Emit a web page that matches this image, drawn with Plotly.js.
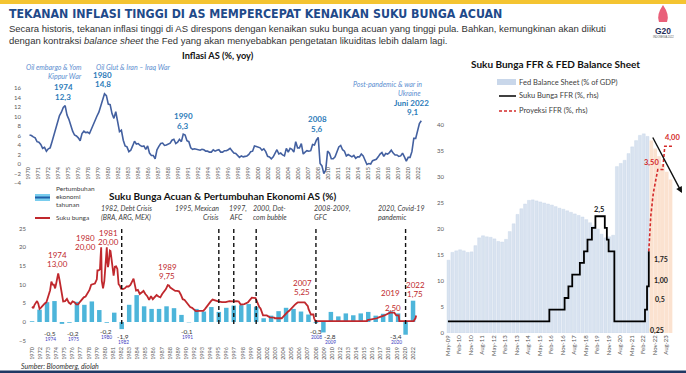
<!DOCTYPE html>
<html><head><meta charset="utf-8">
<script src="https://cdn.plot.ly/plotly-3.0.1.min.js"></script>
<style>html,body{margin:0;padding:0;background:#fff;}#chart{width:686px;height:373px;}</style>
</head><body><div id="chart"></div>
<script>
// ================= DATA =================
// US inflation (CPI, % yoy) – quarterly readings (Mar, Jun, Sep, Dec), 1970 .. Jun 2022
const inflStartYear = 1970;
const inflValues = [
 6.1,6.0,5.7,5.5, 4.7,4.6,4.1,3.3, 3.5,2.7,3.2,3.4, 4.7,6.0,7.4,8.7,
 10.2,10.9,11.9,12.3, 10.3,9.4,7.9,6.9, 6.1,5.9,5.5,4.9, 6.4,6.9,6.6,6.7,
 6.4,7.4,8.3,9.0, 10.1,10.9,12.1,13.3, 14.8,14.4,12.6,12.5, 10.6,9.6,11.0,8.9,
 6.8,7.1,5.0,3.8, 3.6,2.6,2.9,3.8, 4.8,4.2,4.3,3.9, 3.7,3.8,3.1,3.8,
 2.3,1.8,1.8,1.1, 3.0,3.7,4.3,4.4, 3.9,4.0,4.2,4.4, 5.0,5.2,4.3,4.6,
 5.2,4.7,6.3,6.1, 4.9,4.7,3.4,3.1, 3.2,3.1,3.0,2.9, 3.1,3.0,2.7,2.7,
 2.5,2.5,3.0,2.7, 2.9,3.0,2.5,2.5, 2.8,2.8,3.0,3.3, 2.8,2.3,2.2,1.7,
 1.4,1.7,1.5,1.6, 1.7,2.0,2.6,2.7, 3.8,3.7,3.5,3.4, 2.9,3.2,2.6,1.6,
 1.5,1.1,1.5,2.4, 3.0,2.1,2.3,1.9, 1.7,3.3,2.5,3.3, 3.1,2.5,4.7,3.4,
 3.4,4.3,2.1,2.5, 2.8,2.7,2.8,4.1, 4.0,5.0,5.6,0.1, -0.4,-2.0,-1.3,2.7,
 2.3,1.1,1.1,1.5, 2.7,3.6,3.9,3.0, 2.7,1.7,2.0,1.7, 1.5,1.8,1.2,1.5,
 1.5,2.1,1.7,0.8, -0.1,0.1,0.0,0.7, 0.9,1.0,1.5,2.1, 2.4,1.6,2.2,2.1,
 2.4,2.9,2.3,1.9, 1.9,1.6,1.7,2.3, 1.5,0.6,1.4,1.4, 2.6,5.4,5.4,7.0,
 8.5,9.1
];
const inflDates = inflValues.map((v,i)=>{
  const y = inflStartYear + Math.floor(i/4), m = 3*(i%4)+3;
  return y + '-' + String(m).padStart(2,'0') + '-15';
});

// US annual GDP growth (%), 1970..2021
const gdpYears = [];
for (let y = 1970; y <= 2021; y++) gdpYears.push(y);
const gdpValues = [0.2,3.3,5.3,5.6,-0.5,-0.2,5.4,4.6,5.5,3.2,-0.2,2.5,-1.9,4.6,7.2,4.2,3.5,3.5,4.2,3.7,
  1.9,-0.1,3.5,2.8,4.0,2.7,3.8,4.4,4.5,4.8,4.1,1.0,1.7,2.9,3.8,3.5,2.8,2.0,-0.3,-2.8,
  2.7,1.5,2.3,1.8,2.3,2.7,1.7,2.2,2.9,2.3,-3.4,5.7];
const gdpDates = gdpYears.map(y => y + '-12-31');
// bottom axis labels
const gdpTickYears = [1970,1972,1973,1974,1975,1976,1977,1978,1979,1980,1981,1982,1983,1984,1985,1986,1987,1988,1989,1990,
  1992,1993,1994,1995,1996,1997,1998,1999,2000,2002,2003,2004,2005,2006,2007,2008,2009,2010,
  2012,2013,2014,2015,2016,2017,2018,2019,2020,2022];

// Policy rate history (%)
const rateDates = ['1971-01','1971-03','1971-05','1971-07','1971-09','1971-11',
 '1972-01','1972-03','1972-06','1972-09','1972-12',
 '1973-02','1973-04','1973-06','1973-08','1973-10','1973-12',
 '1974-02','1974-04','1974-06','1974-07','1974-09','1974-11',
 '1975-01','1975-03','1975-06','1975-09','1975-12',
 '1976-03','1976-06','1976-09','1976-12',
 '1977-03','1977-06','1977-09','1977-12',
 '1978-03','1978-06','1978-09','1978-12',
 '1979-03','1979-06','1979-09','1979-10','1979-12',
 '1980-02','1980-03','1980-04','1980-05','1980-06','1980-07','1980-09','1980-11','1980-12',
 '1981-01','1981-02','1981-03','1981-04','1981-05','1981-06','1981-07','1981-08','1981-09','1981-10','1981-11','1981-12',
 '1982-02','1982-04','1982-06','1982-07','1982-08','1982-10','1982-12',
 '1983-03','1983-06','1983-09','1983-12',
 '1984-03','1984-06','1984-08','1984-10','1984-12',
 '1985-03','1985-06','1985-09','1985-12',
 '1986-03','1986-06','1986-09','1986-12',
 '1987-03','1987-06','1987-09','1987-12',
 '1988-03','1988-06','1988-09','1988-12',
 '1989-03','1989-05','1989-07','1989-09','1989-12',
 '1990-03','1990-06','1990-09','1990-12',
 '1991-03','1991-06','1991-09','1991-12',
 '1992-03','1992-06','1992-09','1992-12',
 '1993-06','1993-12',
 '1994-03','1994-06','1994-09','1994-12',
 '1995-03','1995-07','1995-12',
 '1996-06','1996-12','1997-06','1997-12',
 '1998-06','1998-09','1998-12',
 '1999-06','1999-12',
 '2000-03','2000-06','2000-12',
 '2001-02','2001-04','2001-06','2001-08','2001-10','2001-12',
 '2002-06','2002-11','2003-06','2003-07','2004-06','2004-09','2004-12',
 '2005-03','2005-06','2005-09','2005-12',
 '2006-03','2006-06','2006-08','2007-07','2007-09','2007-12',
 '2008-01','2008-03','2008-05','2008-09','2008-10','2008-12',
 '2015-11','2015-12','2016-12','2017-03','2017-06','2017-12','2018-03','2018-06','2018-09','2018-12',
 '2019-07','2019-08','2019-09','2019-10','2020-02','2020-03','2022-02','2022-03','2022-05','2022-06'];
const rateValues = [4.1,3.7,4.6,5.3,5.6,4.9,
 3.5,3.8,4.5,4.9,5.3,
 6.6,7.1,8.5,10.8,10.0,10.0,
 9.0,10.5,11.9,13.0,11.3,9.5,
 7.1,5.5,5.6,6.2,5.2,
 4.8,5.5,5.3,4.7,
 4.7,5.4,6.1,6.6,
 6.8,7.6,8.5,10.0,
 10.1,10.3,11.4,13.8,13.8,
 14.1,17.2,20.0,11.0,9.5,9.0,10.9,15.9,18.9,
 20.0,16.0,14.7,15.7,18.5,19.1,19.0,17.8,15.9,15.1,13.3,12.4,
 14.8,14.9,14.2,12.6,10.1,9.7,8.9,
 8.8,9.0,9.5,9.5,
 9.9,11.1,11.6,10.0,8.4,
 8.6,7.5,7.9,8.3,
 7.5,6.9,5.9,6.9,
 6.1,6.7,7.2,6.8,
 6.6,7.5,8.2,8.8,
 9.85,9.75,9.2,9.0,8.5,
 8.3,8.3,8.2,7.3,
 6.1,5.9,5.2,4.4,
 4.0,3.8,3.2,2.9,
 3.0,3.0,
 3.5,4.25,4.7,5.5,
 6.0,5.75,5.5,
 5.3,5.3,5.6,5.5,
 5.6,5.5,4.7,
 4.8,5.3,
 5.9,6.5,6.4,
 5.5,4.8,4.0,3.6,2.5,1.8,
 1.75,1.25,1.2,1.0,1.0,1.6,2.2,
 2.6,3.0,3.6,4.2,
 4.6,5.0,5.25,5.25,4.9,4.25,
 3.5,2.6,2.0,2.0,1.0,0.25,
 0.25,0.5,0.75,1.0,1.25,1.5,1.75,2.0,2.25,2.5,
 2.5,2.25,2.0,1.75,1.75,0.25,0.25,0.5,1.0,1.75];

// Crisis markers
const eventYears = [1982,1995,1997,2000,2008,2020];

// Fed balance sheet (% of GDP), quarterly from May-09
const bsDates = ['2009-05-15','2009-08-15','2009-11-15',
 '2010-02-15','2010-05-15','2010-08-15','2010-11-15','2011-02-15','2011-05-15','2011-08-15','2011-11-15',
 '2012-02-15','2012-05-15','2012-08-15','2012-11-15','2013-02-15','2013-05-15','2013-08-15','2013-11-15',
 '2014-02-15','2014-05-15','2014-08-15','2014-11-15','2015-02-15','2015-05-15','2015-08-15','2015-11-15',
 '2016-02-15','2016-05-15','2016-08-15','2016-11-15','2017-02-15','2017-05-15','2017-08-15','2017-11-15',
 '2018-02-15','2018-05-15','2018-08-15','2018-11-15','2019-02-15','2019-05-15','2019-08-15','2019-11-15',
 '2020-02-15','2020-05-15','2020-08-15','2020-11-15','2021-02-15','2021-05-15','2021-08-15','2021-11-15',
 '2022-02-15','2022-05-15'];
const bsValues = [14.0,15.5,15.8,
 16.0,15.8,15.5,15.6, 16.8,18.3,18.7,18.5,
 18.4,18.1,17.6,17.5, 18.0,19.5,21.0,22.8,
 23.9,24.8,25.5,25.6, 25.4,25.2,25.0,24.8,
 24.6,24.3,24.0,23.8, 23.5,23.2,22.9,22.6,
 22.3,21.8,21.2,20.6, 20.0,19.0,18.3,18.5,
 18.8,32.0,32.6,33.2, 34.5,35.8,37.0,38.0,
 38.3,37.8];
const bsProjDates = ['2022-08-15','2022-11-15','2023-02-15','2023-05-15','2023-08-15','2023-11-15'];
const bsProjValues = [37.0,35.5,34.0,32.5,31.0,29.5];

// FFR (upper bound, %) and projection
const ffrDates = ['2009-05-01','2015-12-16','2016-12-14','2017-03-15','2017-06-14','2017-12-13','2018-03-21',
 '2018-06-13','2018-09-26','2018-12-19','2019-07-31','2019-09-18','2019-10-30','2020-03-15','2022-03-16','2022-05-04','2022-06-15'];
const ffrValues = [0.25,0.5,0.75,1.0,1.25,1.5,1.75,2.0,2.25,2.5,2.25,2.0,1.75,0.25,0.5,1.0,1.75];
const projDates = ['2022-06-15','2022-08-01','2022-10-01','2022-12-01','2023-01-15','2023-05-15','2023-07-01','2023-12-31'];
const projValues = [1.75,2.5,3.0,3.25,3.5,3.5,4.0,4.0];

// ================= LAYOUT HELPERS =================
const W = 686, H = 373;
const fx = p => p / W, fy = p => 1 - p / H;
const LATO = 'Lato, "Open Sans", sans-serif';
const ARIAL = '"Liberation Sans", Arial, sans-serif';
function ann(x, y, text, size, color, anchor, fam) {
  return {xref:'paper', yref:'paper', x:fx(x), y:fy(y), text:text, showarrow:false,
    xanchor:anchor||'center', yanchor:'middle', borderpad:0,
    font:{family:fam||LATO, size:size, color:color}};
}
const YEAR_MS = 365.25*86400000, MONTH_MS = 30.44*86400000;

// ================= TRACES =================
const traces = [
  {type:'scatter', mode:'lines', x:inflDates, y:inflValues, xaxis:'x', yaxis:'y',
   line:{color:'#4360a0', width:1.6}, hoverinfo:'skip'},
  {type:'bar', x:gdpDates, y:gdpValues, xaxis:'x2', yaxis:'y2', width:0.6*YEAR_MS,
   marker:{color:'#4db5da'}, hoverinfo:'skip'},
  {type:'scatter', mode:'lines', x:rateDates, y:rateValues, xaxis:'x2', yaxis:'y2',
   line:{color:'#c0282d', width:1.8}, hoverinfo:'skip'},
  {type:'bar', x:bsDates, y:bsValues, xaxis:'x3', yaxis:'y3', width:2.3*MONTH_MS,
   marker:{color:'#d9e3f0', line:{color:'#c6d4e8', width:0.4}}, hoverinfo:'skip'},
  {type:'bar', x:bsProjDates, y:bsProjValues, xaxis:'x3', yaxis:'y3', width:2.9*MONTH_MS,
   marker:{color:'#fbe2d0'}, hoverinfo:'skip'},
  {type:'scatter', mode:'lines', x:ffrDates, y:ffrValues, xaxis:'x3', yaxis:'y4',
   line:{color:'#000', width:1.8, shape:'hv'}, hoverinfo:'skip'},
  {type:'scatter', mode:'lines', x:projDates, y:projValues, xaxis:'x3', yaxis:'y4',
   line:{color:'#d42a2a', width:1.6, dash:'3px,2px'}, hoverinfo:'skip'}
];

// ================= ANNOTATIONS =================
const anns = [];
// header
anns.push(ann(8, 14, '<b>TEKANAN INFLASI TINGGI DI AS MEMPERCEPAT KENAIKAN SUKU BUNGA ACUAN</b>', 12.3, '#1f4a8a', 'left',
  '"Liberation Sans Narrow", "DejaVu Sans Condensed", "Roboto Condensed", sans-serif'));
anns.push(ann(8, 28, 'Secara historis, tekanan inflasi tinggi di AS direspons dengan kenaikan suku bunga acuan yang tinggi pula. Bahkan, kemungkinan akan diikuti', 9.5, '#333', 'left', ARIAL));
anns.push(ann(8, 41, 'dengan kontraksi <i>balance sheet</i> the Fed yang akan menyebabkan pengetatan likuiditas lebih dalam lagi.', 9.5, '#333', 'left', ARIAL));
anns.push(ann(663, 31, '<b>G20</b>', 8.5, '#1f2f5a', 'center', ARIAL));
anns.push(ann(663, 37, 'INDONESIA 2022', 2.6, '#555', 'center', ARIAL));
// chart titles
anns.push(ann(218, 56, '<b>Inflasi AS (%, yoy)</b>', 9.2, '#111'));
anns.push(ann(222, 196, '<b>Suku Bunga Acuan & Pertumbuhan Ekonomi AS (%)</b>', 10, '#111'));
anns.push(ann(555, 64, '<b>Suku Bunga FFR & FED Balance Sheet</b>', 10, '#111'));
// inflation chart labels
const EV = '#5b8ed0', VB = '#2b7bb9';
anns.push(ann(83, 67, '<i>Oil embargo & Yom</i>', 7, EV, 'right'));
anns.push(ann(83, 76, '<i>Kippur War</i>', 7, EV, 'right'));
anns.push(ann(95, 67, '<i>Oil Glut & Iran – Iraq War</i>', 7, EV, 'left'));
anns.push(ann(103, 75, '<b>1980</b>', 8, VB));
anns.push(ann(103, 84, '<b>14,8</b>', 8, VB));
anns.push(ann(63, 87, '<b>1974</b>', 8, VB));
anns.push(ann(63, 97, '<b>12,3</b>', 8, VB));
anns.push(ann(183, 116, '<b>1990</b>', 8, VB));
anns.push(ann(183, 126, '<b>6,3</b>', 8, VB));
anns.push(ann(317, 119, '<b>2008</b>', 8, VB));
anns.push(ann(317, 129, '<b>5,6</b>', 8, VB));
anns.push(ann(423, 84, '<i>Post-pandemic & war in</i>', 7, EV, 'right'));
anns.push(ann(422, 93, '<i>Ukraine</i>', 7, EV, 'right'));
anns.push(ann(412, 103, '<b>Juni 2022</b>', 8, VB));
anns.push(ann(413, 112, '<b>9,1</b>', 8, VB));
// bottom-left legend
anns.push(ann(55, 188, 'Pertumbuhan', 6.5, '#404040', 'left'));
anns.push(ann(55, 196, 'ekonomi', 6.5, '#404040', 'left'));
anns.push(ann(55, 204, 'tahunan', 6.5, '#404040', 'left'));
anns.push(ann(55, 217, 'Suku bunga', 6.5, '#404040', 'left'));
// event labels
const EC = '#404040';
[[100,'left','1982, Debt Crisis','(BRA, ARG, MEX)'],[220,'right','1995, Mexican','Crisis'],
 [228,'left','1997,','AFC'],[252,'left','2000, Dot-','com bubble'],[313,'left','2008-2009,','GFC'],
 [377,'left','2020, Covid-19','pandemic']].forEach(e => {
  anns.push(ann(e[0], 208, '<i>'+e[2]+'</i>', 7, EC, e[1]));
  anns.push(ann(e[0], 217, '<i>'+e[3]+'</i>', 7, EC, e[1]));
});
// rate labels
const RC = '#c0282d';
[[57,255,'1974','13,00'],[85,238,'1980','20,00'],[108,233,'1981','20,00'],[167,267,'1989','9,75'],
 [302,283,'2007','5,25'],[390,293,'2019','2,50'],[415,285,'2022','1,75']].forEach(r => {
  anns.push(ann(r[0], r[1], r[2], 8, RC));
  anns.push(ann(r[0]+(r[2]==='2019'?3:0), r[1]+(r[2]==='2019'?15:9), r[3], 8, RC));
});
// negative growth labels
[[50,333,'-0,5','1974'],[73,333,'-0,2','1975'],[106,331,'-0,2','1980'],[123,336,'-1,9','1982'],
 [187,331,'-0,1','1991'],[316,331,'-0,3','2008'],[330,336,'-2,8','2009'],[396,336,'-3,4','2020']].forEach(n => {
  anns.push(ann(n[0], n[1], n[2], 6.5, '#333'));
  anns.push(ann(n[0], n[1]+6, n[3], 4.8, '#3b3bc0'));
});
// right chart legend & labels
anns.push(ann(518, 82, 'Fed Balance Sheet (% of GDP)', 7.5, '#404040', 'left'));
anns.push(ann(518, 96, 'Suku Bunga FFR (%, rhs)', 7.5, '#404040', 'left'));
anns.push(ann(518, 111, 'Proyeksi FFR (%, rhs)', 7.5, '#404040', 'left'));
anns.push(ann(599, 209, '<b>2,5</b>', 7.5, '#222'));
anns.push(ann(661, 259, '<b>1,75</b>', 7, '#222'));
anns.push(ann(661, 280, '<b>1,00</b>', 7, '#222'));
anns.push(ann(660, 299, '<b>0,5</b>', 7, '#222'));
anns.push(ann(657, 330, '<b>0,25</b>', 7, '#222'));
anns.push(ann(672, 137, '<b>4,00</b>', 7.5, '#d42a2a'));
anns.push(ann(651, 162, '<b>3,50</b>', 7.5, '#d42a2a'));
anns.push(ann(20, 366, '<i>Sumber: Bloomberg, diolah</i>', 7, '#333', 'left'));
// arrow
anns.push({xref:'paper', yref:'paper', x:fx(682), y:fy(193), ax:-30, ay:-57, showarrow:true,
  arrowhead:2, arrowsize:0.9, arrowwidth:1.4, arrowcolor:'#111', text:''});

// ================= SHAPES =================
const shapes = [
  {type:'rect', xref:'paper', yref:'paper', x0:0, x1:1, y0:fy(4), y1:1, fillcolor:'#f4c431', line:{width:0}},
  {type:'rect', xref:'paper', yref:'paper', x0:0, x1:1, y0:0, y1:fy(370.5), fillcolor:'#1f3864', line:{width:0}},
  // G20 flame
  {type:'path', xref:'paper', yref:'paper', fillcolor:'#e9607a', line:{width:0},
   path:'M '+fx(663)+','+fy(5)+' Q '+fx(656)+','+fy(15)+' '+fx(659)+','+fy(22)+' L '+fx(667)+','+fy(22)+' Q '+fx(670)+','+fy(15)+' '+fx(663)+','+fy(5)+' Z'},
  // legend icons bottom-left
  {type:'rect', xref:'paper', yref:'paper', x0:fx(35), x1:fx(50), y0:fy(201), y1:fy(194), fillcolor:'#79cdee', line:{width:0}},
  {type:'line', xref:'paper', yref:'paper', x0:fx(35), x1:fx(50), y0:fy(197.5), y1:fy(197.5), line:{color:'#1f5fa8', width:2}},
  {type:'line', xref:'paper', yref:'paper', x0:fx(35), x1:fx(50), y0:fy(218), y1:fy(218), line:{color:'#c0282d', width:2}},
  // legend icons right
  {type:'rect', xref:'paper', yref:'paper', x0:fx(497), x1:fx(516), y0:fy(85), y1:fy(79), fillcolor:'#c9d7ea', line:{width:0}},
  {type:'line', xref:'paper', yref:'paper', x0:fx(499), x1:fx(516), y0:fy(96), y1:fy(96), line:{color:'#000', width:1.5}},
  {type:'line', xref:'paper', yref:'paper', x0:fx(499), x1:fx(516), y0:fy(111), y1:fy(111), line:{color:'#d42a2a', width:1.5, dash:'3px,2px'}}
];
// crisis dashed lines
eventYears.forEach(y => shapes.push({type:'line', xref:'x2', yref:'paper', x0:y+'-12-31', x1:y+'-12-31',
  y0:fy(324), y1:fy(226), line:{color:'#111', width:1.4, dash:'4px,3px'}}));

// ================= LAYOUT =================
const tickFont = {family:LATO, size:6, color:'#595959'};
const layout = {
  width:W, height:H, margin:{l:0,r:0,t:0,b:0}, paper_bgcolor:'#fff', plot_bgcolor:'rgba(0,0,0,0)',
  showlegend:false, barmode:'overlay', font:{family:LATO},
  xaxis:{type:'date', domain:[fx(22), fx(427)], range:['1969-03-14','2023-03-20'], anchor:'free', position:fy(165),
    tickmode:'linear', tick0:'1970-01-01', dtick:'M16', tickformat:'%Y', tickangle:-90,
    tickfont:{family:LATO, size:5.5, color:'#595959'}, showgrid:false, zeroline:false, showline:false, ticks:''},
  yaxis:{domain:[fy(183), fy(80)], range:[-4, 17.68], anchor:'x', tickmode:'array', tickvals:[-4,-2,0,2,4,6,8,10,12,14,16],
    tickfont:tickFont, showgrid:false, zeroline:false, showline:false, ticks:''},
  xaxis2:{type:'date', domain:[fx(27), fx(430)], range:['1970-04-27','2024-04-08'], anchor:'y2',
    tickmode:'array', tickvals:gdpTickYears.map((y,i)=>{
      const t0 = new Date(gdpDates[0]).getTime(), t1 = new Date(gdpDates[gdpDates.length-1]).getTime();
      return new Date(t0 + (t1-t0)*i/(gdpTickYears.length-1)).toISOString().slice(0,10);
    }), ticktext:gdpTickYears.map(String), tickangle:-90,
    tickfont:{family:LATO, size:5.5, color:'#595959'}, showgrid:false, zeroline:false, showline:false, ticks:''},
  yaxis2:{domain:[fy(345), fy(225)], range:[-6.15, 25.94], anchor:'x2', tickmode:'array', tickvals:[-5,0,5,10,15,20,25],
    tickfont:tickFont, showgrid:false, zeroline:false, showline:false, ticks:''},
  xaxis3:{type:'date', domain:[fx(445), fx(676)], range:['2009-02-20','2024-03-25'], anchor:'y3',
    tickmode:'linear', tick0:'2009-05-01', dtick:'M9', tickformat:'%b-%y', tickangle:-90,
    tickfont:{family:LATO, size:6, color:'#595959'}, showgrid:false, zeroline:false, showline:false, ticks:''},
  yaxis3:{domain:[fy(333), fy(125)], range:[0, 40], anchor:'x3', tickmode:'array', tickvals:[0,5,10,15,20,25,30,35,40],
    tickfont:tickFont, showgrid:false, zeroline:false, showline:false, ticks:''},
  yaxis4:{overlaying:'y3', side:'right', range:[0, 4.454], visible:false, showgrid:false, zeroline:false},
  annotations:anns, shapes:shapes
};
Plotly.newPlot('chart', traces, layout, {staticPlot:true, displayModeBar:false});
</script></body></html>
